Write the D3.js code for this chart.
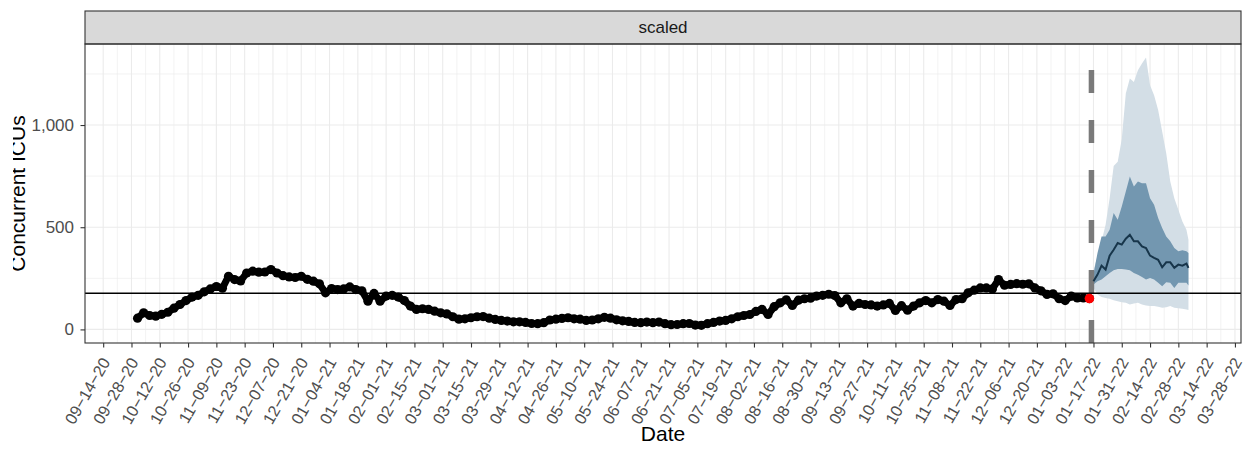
<!DOCTYPE html>
<html>
<head>
<meta charset="utf-8">
<script src="https://d3js.org/d3.v7.min.js"></script>
<style>
  body { margin: 0; background: #fff; }
  svg { display: block; }
  text { font-family: "Liberation Sans", Arial, Helvetica, sans-serif; }
</style>
</head>
<body>
<svg id="chart" width="1245" height="453"></svg>
<script>
// observed concurrent ICUs, one reading every 3 days from obsStart
const obsStart = "2020-10-01";
const obsStepDays = 3;
const observed = [
  55, 81, 68, 65, 74, 84, 104, 122, 141, 158,
  167, 184, 198, 210, 202, 260, 244, 237, 276, 285,
  280, 281, 293, 276, 263, 257, 254, 260, 245, 236,
  223, 179, 200, 195, 198, 208, 195, 189, 138,
  176, 138, 163, 167, 158, 141, 114, 98, 101, 98, 89,
  81, 76, 62, 50, 52, 57, 62, 63, 55, 49,
  44, 41, 37, 37, 34, 29, 28, 33, 46, 50,
  54, 57, 52, 50, 44, 46, 52, 59, 55,
  47, 42, 39, 34, 33, 36, 33, 36, 28, 23, 24,
  28, 29, 21, 20, 28, 34, 41, 44, 52, 62,
  68, 73, 88, 98, 73, 111, 130, 145, 117, 143,
  150, 153, 163, 167, 172, 166, 130, 150, 114,
  127, 122, 120, 114, 120, 127, 93, 116, 94, 114, 130,
  141, 130, 146, 138, 117, 146, 150, 179, 192, 203,
  203, 198, 244, 216, 220, 224, 221, 223, 203, 189,
  171, 174, 150, 141, 163, 154, 154, 151
];

// forecast (days after forecastStart)
const forecastStart = "2022-01-17";
const forecastDay = [0, 2, 4, 6, 8, 10, 12, 14, 16, 18, 20, 22, 24, 26, 28, 30, 32, 34, 36, 38, 40, 42, 44, 46, 47];
const fcMedian  = [236, 268, 312, 293, 361, 390, 423, 415, 444, 463, 431, 431, 406, 398, 361, 350, 341, 304, 328, 328, 301, 317, 312, 322, 301];
const fcInnerLo = [220, 236, 244, 260, 276, 289, 296, 296, 293, 289, 276, 268, 257, 244, 252, 244, 228, 211, 231, 228, 203, 228, 228, 228, 215];
const fcInnerHi = [270, 374, 455, 455, 488, 569, 537, 602, 675, 748, 699, 724, 715, 715, 642, 610, 545, 496, 455, 431, 398, 382, 387, 382, 374];
const fcOuterLo = [203, 171, 159, 154, 150, 143, 138, 133, 130, 122, 127, 130, 122, 117, 114, 114, 111, 106, 109, 114, 106, 104, 101, 98, 95];
const fcOuterHi = [290, 358, 431, 512, 642, 800, 820, 930, 1154, 1228, 1211, 1268, 1301, 1330, 1195, 1146, 1073, 968, 862, 724, 642, 585, 528, 488, 439];

const capacityLine = 177;
const cutoffDate = "2022-01-16";
const stripLabel = "scaled";
const yLabel = "Concurrent ICUs";
const xLabel = "Date";
const yTicks = [0, 500, 1000];
const yMinorTicks = [250, 750, 1250];
const xTickLabels = [
  "09-14-20", "09-28-20", "10-12-20", "10-26-20", "11-09-20", "11-23-20", "12-07-20", "12-21-20",
  "01-04-21", "01-18-21", "02-01-21", "02-15-21", "03-01-21", "03-15-21", "03-29-21", "04-12-21",
  "04-26-21", "05-10-21", "05-24-21", "06-07-21", "06-21-21", "07-05-21", "07-19-21", "08-02-21",
  "08-16-21", "08-30-21", "09-13-21", "09-27-21", "10-11-21", "10-25-21", "11-08-21", "11-22-21",
  "12-06-21", "12-20-21", "01-03-22", "01-17-22", "01-31-22", "02-14-22", "02-28-22", "03-14-22",
  "03-28-22"
];

const parseIso = d3.utcParse("%Y-%m-%d");
const parseTick = d3.utcParse("%m-%d-%y");

const obs = observed.map((v, i) => ({
  date: d3.utcDay.offset(parseIso(obsStart), i * obsStepDays), value: v
}));
const fc = forecastDay.map((d, i) => ({
  date: d3.utcDay.offset(parseIso(forecastStart), d),
  med: fcMedian[i], lo50: fcInnerLo[i], hi50: fcInnerHi[i], lo95: fcOuterLo[i], hi95: fcOuterHi[i]
}));
const tickDates = xTickLabels.map(parseTick);

const panel = { left: 85, right: 1241, top: 44, bottom: 343 };
const stripTop = 11;

// ggplot-style 5% expansion
function expand(ext, f) {
  const pad = (ext[1] - ext[0]) * f;
  return [ext[0] - pad, ext[1] + pad];
}
const xExt = d3.extent(obs.map(d => d.date).concat(fc.map(d => d.date)));
const xPad = (xExt[1] - xExt[0]) * 0.05;
const x = d3.scaleUtc()
  .domain([new Date(+xExt[0] - xPad), new Date(+xExt[1] + xPad)])
  .range([panel.left, panel.right]);

const yExt = d3.extent([0].concat(observed, fcOuterHi, fcOuterLo));
const y = d3.scaleLinear()
  .domain(expand(yExt, 0.05))
  .range([panel.bottom, panel.top]);

const svg = d3.select("#chart");
svg.append("rect").attr("width", 1245).attr("height", 453).attr("fill", "#fff");

// grid
const grid = svg.append("g");
const minorX = tickDates.slice(0, -1).map(d => d3.utcDay.offset(d, 7));
grid.selectAll(".ymin").data(yMinorTicks).enter().append("line")
  .attr("x1", panel.left).attr("x2", panel.right)
  .attr("y1", d => y(d)).attr("y2", d => y(d))
  .attr("stroke", "#ebebeb").attr("stroke-width", 0.6);
grid.selectAll(".xmin").data(minorX).enter().append("line")
  .attr("y1", panel.top).attr("y2", panel.bottom)
  .attr("x1", d => x(d)).attr("x2", d => x(d))
  .attr("stroke", "#ebebeb").attr("stroke-width", 0.6);
grid.selectAll(".ymaj").data(yTicks).enter().append("line")
  .attr("x1", panel.left).attr("x2", panel.right)
  .attr("y1", d => y(d)).attr("y2", d => y(d))
  .attr("stroke", "#ebebeb").attr("stroke-width", 1.1);
grid.selectAll(".xmaj").data(tickDates).enter().append("line")
  .attr("y1", panel.top).attr("y2", panel.bottom)
  .attr("x1", d => x(d)).attr("x2", d => x(d))
  .attr("stroke", "#ebebeb").attr("stroke-width", 1.1);

const plot = svg.append("g");

// forecast ribbons
plot.append("path").datum(fc)
  .attr("fill", "#d3dee6")
  .attr("d", d3.area().x(d => x(d.date)).y0(d => y(d.lo95)).y1(d => y(d.hi95)));
plot.append("path").datum(fc)
  .attr("fill", "#7397b0")
  .attr("d", d3.area().x(d => x(d.date)).y0(d => y(d.lo50)).y1(d => y(d.hi50)));

// cutoff
const cx = x(parseIso(cutoffDate));
plot.append("line")
  .attr("x1", cx).attr("x2", cx).attr("y1", panel.bottom).attr("y2", panel.top)
  .attr("stroke", "#7a7a7a").attr("stroke-width", 5.5)
  .attr("stroke-dasharray", "23,27");

plot.append("path").datum(fc)
  .attr("fill", "none").attr("stroke", "#17354a").attr("stroke-width", 2)
  .attr("d", d3.line().x(d => x(d.date)).y(d => y(d.med)));

plot.append("line")
  .attr("x1", panel.left).attr("x2", panel.right)
  .attr("y1", y(capacityLine)).attr("y2", y(capacityLine))
  .attr("stroke", "#000").attr("stroke-width", 1.6);

// observed: thick trace plus points
plot.append("path").datum(obs)
  .attr("fill", "none").attr("stroke", "#000").attr("stroke-width", 7)
  .attr("stroke-linejoin", "round").attr("stroke-linecap", "round")
  .attr("d", d3.line().x(d => x(d.date)).y(d => y(d.value)));
plot.selectAll(".obs").data(obs).enter().append("circle")
  .attr("cx", d => x(d.date)).attr("cy", d => y(d.value))
  .attr("r", 4.6).attr("fill", "#000");

const last = obs[obs.length - 1];
plot.append("circle")
  .attr("cx", x(last.date)).attr("cy", y(last.value))
  .attr("r", 4.8).attr("fill", "#ff0000");

// strip and border
svg.append("rect")
  .attr("x", panel.left).attr("y", stripTop)
  .attr("width", panel.right - panel.left).attr("height", panel.top - stripTop)
  .attr("fill", "#d9d9d9").attr("stroke", "#333").attr("stroke-width", 1.1);
svg.append("text")
  .attr("x", (panel.left + panel.right) / 2).attr("y", (stripTop + panel.top) / 2)
  .attr("dy", "0.35em").attr("text-anchor", "middle")
  .attr("font-size", 17).attr("fill", "#1a1a1a")
  .text(stripLabel);
svg.append("rect")
  .attr("x", panel.left).attr("y", panel.top)
  .attr("width", panel.right - panel.left).attr("height", panel.bottom - panel.top)
  .attr("fill", "none").attr("stroke", "#333").attr("stroke-width", 1.1);

// axes
const yAxis = svg.append("g")
  .attr("transform", `translate(${panel.left},0)`)
  .call(d3.axisLeft(y).tickValues(yTicks).tickFormat(d3.format(",")).tickSize(4.5).tickPadding(6.5));
yAxis.select(".domain").remove();
yAxis.selectAll("line").attr("stroke", "#333").attr("stroke-width", 1.1);
yAxis.selectAll("text").attr("font-size", 17).attr("fill", "#4d4d4d")
  .attr("font-family", "Liberation Sans, Arial, sans-serif");

const fmtTick = d3.utcFormat("%m\u2212%d\u2212%y");
const xAxis = svg.append("g")
  .attr("transform", `translate(0,${panel.bottom})`)
  .call(d3.axisBottom(x).tickValues(tickDates).tickFormat(fmtTick).tickSize(4.5));
xAxis.select(".domain").remove();
xAxis.selectAll("line").attr("stroke", "#333").attr("stroke-width", 1.1);
xAxis.selectAll("text")
  .attr("font-size", 16.3).attr("fill", "#4d4d4d")
  .attr("font-family", "Liberation Sans, Arial, sans-serif")
  .attr("text-anchor", "end")
  .attr("x", 0).attr("y", 0).attr("dy", 0)
  .attr("transform", "translate(7,19) rotate(-60)");

// titles (the reference crops the left edge of the y title)
svg.append("defs").append("clipPath").attr("id", "cut")
  .append("rect").attr("x", 13).attr("y", 0).attr("width", 60).attr("height", 453);
svg.append("g").attr("clip-path", "url(#cut)")
  .append("text")
  .attr("transform", `translate(25,${(panel.top + panel.bottom) / 2}) rotate(-90)`)
  .attr("text-anchor", "middle").attr("font-size", 21).attr("fill", "#000")
  .text(yLabel);
svg.append("text")
  .attr("x", (panel.left + panel.right) / 2).attr("y", 440.5)
  .attr("text-anchor", "middle").attr("font-size", 21).attr("fill", "#000")
  .text(xLabel);
</script>
</body>
</html>
